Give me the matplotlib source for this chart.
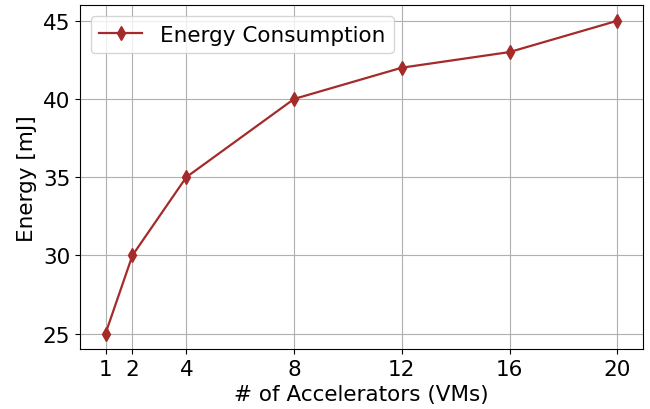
import matplotlib
matplotlib.use('Agg')
import matplotlib.pyplot as plt

accelerators = [1, 2, 4, 8, 12, 16, 20]
energy = [25, 30, 35, 40, 42, 43, 45]

fig, ax = plt.subplots(figsize=(6.5, 4.1), dpi=100)
fig.subplots_adjust(left=0.123, right=0.989, top=0.985, bottom=0.146)

ax.plot(accelerators, energy, color='#a52a2a', marker='d', markersize=7.5,
        linewidth=1.6, label='Energy Consumption')
ax.set_xticks(accelerators)
ax.set_yticks([25, 30, 35, 40, 45])
ax.grid(True)
ax.tick_params(labelsize=15.5)
ax.set_xlabel('# of Accelerators (VMs)', fontsize=15.5)
ax.set_ylabel('Energy [mJ]', fontsize=15.5)
ax.legend(fontsize=15.5, loc='upper left')

fig.savefig('out.png', dpi=100)
